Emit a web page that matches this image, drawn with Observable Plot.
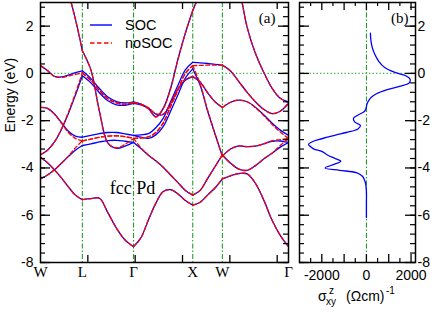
<!DOCTYPE html>
<html><head><meta charset="utf-8">
<script src="https://cdn.jsdelivr.net/npm/d3@7"></script>
<script src="https://cdn.jsdelivr.net/npm/@observablehq/plot@0.6"></script>
<style>
html,body{margin:0;padding:0;background:#fff;}
#wrap{position:relative;width:436px;height:312px;overflow:hidden;background:#fff;}
#wrap svg{position:absolute;left:0;top:0;}
</style></head><body>
<div id="wrap"></div>
<script>
// ---- k-path (units of 2π/a) ----
const kHigh = [0, 0.7071, 1.5731, 2.5731, 3.0731, 4.1911];
const kLabels = ["W", "L", "Γ", "X", "W", "Γ"];
const kTicks = [0.8, 1.6, 2.4, 3.2, 4.0];

const kWL = [0, 0.1179, 0.2357, 0.3536, 0.4714, 0.5893, 0.7071];
const kLG = [0.7071, 0.8514, 0.9958, 1.1401, 1.2845, 1.4288, 1.5731];
const kGX = [1.5731, 1.6981, 1.8231, 1.9481, 2.0731, 2.1981, 2.3231, 2.4481, 2.5731];
const kXW = [2.5731, 2.6981, 2.8231, 2.9481, 3.0731];
const kWG = [3.0731, 3.2129, 3.3526, 3.4924, 3.6321, 3.7719, 3.9116, 4.0514, 4.1911];

// ---- bands without SOC (eV), one row per band, per segment ----
const noWL = [
  [-3.55, -3.78, -4.08, -4.42, -4.8, -5.15, -5.34],
  [-4.46, -4.3, -4.08, -3.8, -3.5, -3.15, -2.85],
  [-3.44, -3.25, -2.9, -2.35, -1.65, -0.85, 0.02],
  [-1.44, -1.48, -1.72, -2.1, -2.5, -2.75, -2.85],
  [0.33, 0.12, -0.13, -0.17, -0.11, -0.04, 0.02],
  [5.0, 4.8, 4.4, 3.9, 3.35, 2.3, 0.96]
];
const noLG = [
  [-5.34, -5.30, -5.28, -5.9, -6.55, -7.05, -7.33],
  [-2.85, -2.78, -2.7, -2.65, -2.64, -2.68, -2.75],
  [0.02, -0.3, -0.72, -1.07, -1.25, -1.3, -1.23],
  [-2.85, -2.78, -2.7, -2.65, -2.64, -2.68, -2.75],
  [0.02, -0.3, -0.72, -1.07, -1.25, -1.3, -1.23],
  [0.96, 0.15, -1.6, -2.95, -3.15, -3.0, -2.75]
];
const noGX = [
  [-7.33, -6.95, -6.2, -5.5, -5.0, -4.92, -5.1, -5.38, -5.57],
  [-2.75, -3.15, -3.45, -3.7, -3.97, -4.3, -4.62, -4.95, -5.15],
  [-1.23, -1.3, -1.45, -1.7, -1.72, -1.25, -0.65, -0.27, -0.12],
  [-2.75, -2.73, -2.68, -2.5, -2.1, -1.4, -0.7, 0.0, 0.33],
  [-1.23, -1.32, -1.5, -1.85, -1.5, -0.65, 0.6, 1.7, 2.66],
  [-2.75, -2.73, -2.68, -2.5, -2.1, -1.4, -0.7, 0.0, 0.33]
];
const noXW = [
  [-5.57, -5.45, -5.15, -4.85, -4.46],
  [-5.15, -4.95, -4.45, -3.95, -3.45],
  [-0.12, -0.35, -0.8, -1.2, -1.44],
  [0.33, -0.45, -1.55, -2.55, -3.5],
  [2.66, 3.4, 4.1, 4.7, 5.0],
  [0.33, 0.34, 0.35, 0.35, 0.35]
];
const noWG = [
  [-4.46, -4.33, -4.24, -4.25, -4.65, -5.35, -6.2, -6.85, -7.33],
  [-3.45, -3.8, -4.05, -4.1, -3.9, -3.62, -3.38, -3.05, -2.75],
  [-1.44, -1.22, -1.13, -1.2, -1.45, -1.78, -2.15, -2.48, -2.75],
  [-3.5, -3.2, -3.07, -3.1, -3.08, -2.98, -2.85, -2.8, -2.75],
  [5.0, 4.5, 3.6, 1.95, 0.85, 0.05, -0.62, -1.05, -1.23],
  [0.35, 0.1, -0.35, -0.8, -1.2, -1.52, -1.7, -1.6, -1.23]
];

// ---- bands with SOC (eV) ----
const soWL = [
  [-3.55, -3.78, -4.08, -4.42, -4.8, -5.15, -5.34],
  [-4.46, -4.3, -4.08, -3.8, -3.52, -3.25, -3.05],
  [-3.44, -3.25, -2.9, -2.37, -1.7, -0.92, -0.1],
  [-1.44, -1.48, -1.72, -2.08, -2.45, -2.65, -2.7],
  [0.33, 0.12, -0.12, -0.15, -0.07, 0.03, 0.11],
  [5.0, 4.8, 4.4, 3.9, 3.35, 2.3, 0.96]
];
const soLG = [
  [-5.34, -5.30, -5.28, -5.9, -6.55, -7.05, -7.33],
  [-3.05, -2.98, -2.9, -2.84, -2.83, -2.87, -2.92],
  [-0.1, -0.4, -0.82, -1.16, -1.33, -1.35, -1.27],
  [-2.7, -2.62, -2.55, -2.5, -2.5, -2.56, -2.62],
  [0.11, -0.22, -0.64, -1.0, -1.19, -1.25, -1.2],
  [0.96, 0.15, -1.6, -2.95, -3.17, -3.08, -2.92]
];
const soGX = [
  [-7.33, -6.95, -6.2, -5.5, -5.0, -4.92, -5.1, -5.38, -5.57],
  [-2.92, -3.18, -3.46, -3.7, -3.97, -4.3, -4.62, -4.95, -5.15],
  [-1.27, -1.33, -1.47, -1.72, -1.74, -1.27, -0.67, -0.29, -0.14],
  [-2.62, -2.7, -2.75, -2.6, -2.25, -1.6, -0.9, -0.2, 0.19],
  [-1.2, -1.3, -1.48, -1.83, -1.48, -0.63, 0.6, 1.7, 2.66],
  [-2.62, -2.6, -2.55, -2.3, -1.9, -1.2, -0.5, 0.15, 0.47]
];
const soXW = [
  [-5.57, -5.45, -5.15, -4.85, -4.46],
  [-5.15, -4.95, -4.45, -3.95, -3.45],
  [-0.14, -0.37, -0.82, -1.2, -1.44],
  [0.19, -0.5, -1.58, -2.55, -3.5],
  [2.66, 3.4, 4.1, 4.7, 5.0],
  [0.47, 0.45, 0.42, 0.38, 0.35]
];
const soWG = [
  [-4.46, -4.33, -4.24, -4.25, -4.65, -5.35, -6.2, -6.85, -7.33],
  [-3.45, -3.8, -4.05, -4.1, -3.9, -3.62, -3.38, -3.12, -2.92],
  [-1.44, -1.22, -1.13, -1.2, -1.43, -1.75, -2.1, -2.4, -2.62],
  [-3.5, -3.2, -3.07, -3.1, -3.08, -2.98, -2.87, -2.86, -2.92],
  [5.0, 4.5, 3.6, 1.95, 0.85, 0.05, -0.62, -1.05, -1.2],
  [0.35, 0.1, -0.35, -0.8, -1.2, -1.52, -1.7, -1.6, -1.27]
];

// ---- anomalous Hall conductivity vs energy (panel b) ----
const hallE = [1.7, 1.4, 1.1, 0.8, 0.5, 0.25, 0.05, -0.1, -0.25, -0.4, -0.55, -0.7, -0.85, -1.0, -1.15, -1.3, -1.45, -1.6, -1.75, -1.9, -2.05, -2.2, -2.35, -2.5, -2.6, -2.7, -2.8, -2.9, -3.0, -3.1, -3.2, -3.3, -3.45, -3.6, -3.72, -3.85, -4.0, -4.1, -4.2, -4.35, -4.5, -4.7, -5.0, -5.5, -6.1];
const hallS = [180, 200, 260, 380, 560, 820, 1250, 1760, 1960, 1920, 1480, 900, 470, 230, 100, 25, -10, -80, -350, -580, -530, -270, -380, -900, -1350, -1750, -2150, -2450, -2600, -2500, -2350, -2000, -1750, -1400, -1150, -1450, -1850, -1200, -450, -180, -90, -30, 0, 0, 0];

// ---- axis tick values / labels ----
const yMajor = [-8, -6, -4, -2, 0, 2];
const yMinor = d3.range(-8, 3.001, 0.4);
const sMajorTicks = [-2000, -1000, 0, 1000, 2000];
const sMinorTicks = [-2500, -1500, -500, 500, 1500];
const sLabels = [-2000, 0, 2000];

// ---- build tables ----
const segK = [kWL, kLG, kGX, kXW, kWG];
function rows(segs) {
  const out = [];
  segs.forEach((bands, s) => bands.forEach((arr, b) => arr.forEach((E, i) => out.push({k: segK[s][i], E, z: s * 10 + b}))));
  return out;
}
const noRows = rows([noWL, noLG, noGX, noXW, noWG]);
const soRows = rows([soWL, soLG, soGX, soXW, soWG]);
const hallRows = hallE.map((E, i) => ({E, s: hallS[i]}));

const sans = "Liberation Sans, Arial, Helvetica, sans-serif";
const serif = "Liberation Serif, Times New Roman, serif";
const greenDD = "#11961a";
const greenDot = "#3cb43c";
const W = 436, H = 312;
const style = {fontFamily: sans, fontSize: "14px", background: "transparent", color: "black", overflow: "visible"};

// frame sizes for inward ticks
const lw = W - 40 - 148, rw = W - 299 - 21, fh = H - 2 - 50;

const leftPlot = Plot.plot({
  width: W, height: H,
  marginLeft: 40, marginRight: 148, marginTop: 2, marginBottom: 50,
  x: {domain: [0, 4.1911], axis: null},
  y: {domain: [-8, 3], axis: null},
  style,
  marks: [
    Plot.ruleX(kHigh.slice(1, 5), {stroke: greenDD, strokeWidth: 1, strokeDasharray: "5,2,1.5,2"}),
    Plot.ruleY([0], {stroke: greenDot, strokeWidth: 1.3, strokeDasharray: "1.3,2.2"}),
    Plot.line(soRows, {x: "k", y: "E", z: "z", stroke: "#0000ff", strokeWidth: 1.3, curve: "catmull-rom", clip: true}),
    Plot.line(noRows, {x: "k", y: "E", z: "z", stroke: "#ff0000", strokeWidth: 1.3, strokeDasharray: "4,2.5", curve: "catmull-rom", clip: true}),
    Plot.tickY(yMajor, {y: d => d, insetRight: lw - 10, stroke: "black", strokeWidth: 1.3}),
    Plot.tickY(yMajor, {y: d => d, insetLeft: lw - 10, stroke: "black", strokeWidth: 1.3}),
    Plot.tickY(yMinor, {y: d => d, insetRight: lw - 5, stroke: "black", strokeWidth: 1.2}),
    Plot.tickY(yMinor, {y: d => d, insetLeft: lw - 5, stroke: "black", strokeWidth: 1.2}),
    Plot.tickX(kTicks, {x: d => d, insetTop: fh - 7, stroke: "black", strokeWidth: 1.3}),
    Plot.tickX(kTicks, {x: d => d, insetBottom: fh - 7, stroke: "black", strokeWidth: 1.3}),
    Plot.frame({stroke: "black", strokeWidth: 1.5}),
    Plot.axisY(yMajor, {anchor: "left", tickSize: 0, tickPadding: 7, tickFormat: d => String(d), label: null, fontSize: 14}),
    Plot.axisX(kHigh, {anchor: "bottom", tickSize: 0, tickPadding: 4, tickFormat: d => kLabels[kHigh.indexOf(d)], label: null, fontFamily: serif, fontSize: 15}),
    Plot.text(["Energy (eV)"], {frameAnchor: "left", dx: -30, rotate: -90, fontSize: 14, fontFamily: sans}),
    Plot.text(["(a)"], {frameAnchor: "top-right", dx: -13, dy: 10, textAnchor: "end", lineAnchor: "top", fontFamily: serif, fontSize: 15}),
    Plot.text(["fcc Pd"], {frameAnchor: "top-left", dx: 92, dy: 191, textAnchor: "middle", lineAnchor: "bottom", fontFamily: serif, fontSize: 18})
  ]
});

const rightPlot = Plot.plot({
  width: W, height: H,
  marginLeft: 299, marginRight: 21, marginTop: 2, marginBottom: 50,
  x: {domain: [-3000, 2200], axis: null},
  y: {domain: [-8, 3], axis: null},
  style,
  marks: [
    Plot.ruleX([0], {stroke: greenDD, strokeWidth: 1, strokeDasharray: "5,2,1.5,2"}),
    Plot.ruleY([0], {stroke: greenDot, strokeWidth: 1.3, strokeDasharray: "1.3,2.2"}),
    Plot.line(hallRows, {x: "s", y: "E", stroke: "#0000ff", strokeWidth: 1.3, curve: "catmull-rom"}),
    Plot.tickY(yMajor, {y: d => d, insetRight: rw - 10, stroke: "black", strokeWidth: 1.3}),
    Plot.tickY(yMajor, {y: d => d, insetLeft: rw - 10, stroke: "black", strokeWidth: 1.3}),
    Plot.tickY(yMinor, {y: d => d, insetRight: rw - 5, stroke: "black", strokeWidth: 1.2}),
    Plot.tickY(yMinor, {y: d => d, insetLeft: rw - 5, stroke: "black", strokeWidth: 1.2}),
    Plot.tickX(sMajorTicks, {x: d => d, insetTop: fh - 8, stroke: "black", strokeWidth: 1.3}),
    Plot.tickX(sMajorTicks, {x: d => d, insetBottom: fh - 8, stroke: "black", strokeWidth: 1.3}),
    Plot.tickX(sMinorTicks, {x: d => d, insetTop: fh - 4, stroke: "black", strokeWidth: 1.2}),
    Plot.tickX(sMinorTicks, {x: d => d, insetBottom: fh - 4, stroke: "black", strokeWidth: 1.2}),
    Plot.frame({stroke: "black", strokeWidth: 1.5}),
    Plot.axisY(yMajor, {anchor: "right", tickSize: 0, tickPadding: 2, tickFormat: d => String(d), label: null, fontSize: 14}),
    Plot.axisX(sLabels, {anchor: "bottom", tickSize: 0, tickPadding: 8, tickFormat: d => String(d), label: null, fontSize: 14}),
    Plot.text(["(b)"], {frameAnchor: "top-right", dx: -7, dy: 10, textAnchor: "end", lineAnchor: "top", fontFamily: serif, fontSize: 15})
  ]
});

const wrap = document.getElementById("wrap");
wrap.appendChild(leftPlot);
wrap.appendChild(rightPlot);

// legend (panel a)
const lg = d3.select(leftPlot).append("g").attr("text-anchor", "start");
lg.append("line").attr("x1", 90).attr("x2", 112).attr("y1", 25).attr("y2", 25).attr("stroke", "#0000ff").attr("stroke-width", 1.4);
lg.append("line").attr("x1", 90).attr("x2", 112).attr("y1", 43).attr("y2", 43).attr("stroke", "#ff0000").attr("stroke-width", 1.4).attr("stroke-dasharray", "4.5,2.5");
lg.append("text").attr("x", 125).attr("y", 30).attr("text-anchor", "start").attr("font-family", sans).attr("font-size", 14.5).attr("fill", "black").text("SOC");
lg.append("text").attr("x", 125).attr("y", 48).attr("text-anchor", "start").attr("font-family", sans).attr("font-size", 14.5).attr("fill", "black").text("noSOC");

// x label (panel b) with sub/superscripts
const xl = d3.select(rightPlot).append("g").attr("text-anchor", "start").attr("font-family", sans).attr("fill", "black");
xl.append("text").attr("x", 318).attr("y", 301).attr("font-size", 14).text("σ");
xl.append("text").attr("x", 326).attr("y", 305).attr("font-size", 10).text("xy");
xl.append("text").attr("x", 329).attr("y", 294).attr("font-size", 10).text("z");
xl.append("text").attr("x", 346).attr("y", 301).attr("font-size", 14).text("(Ωcm)");
xl.append("text").attr("x", 386).attr("y", 294).attr("font-size", 10).text("-1");
</script>
</body></html>
